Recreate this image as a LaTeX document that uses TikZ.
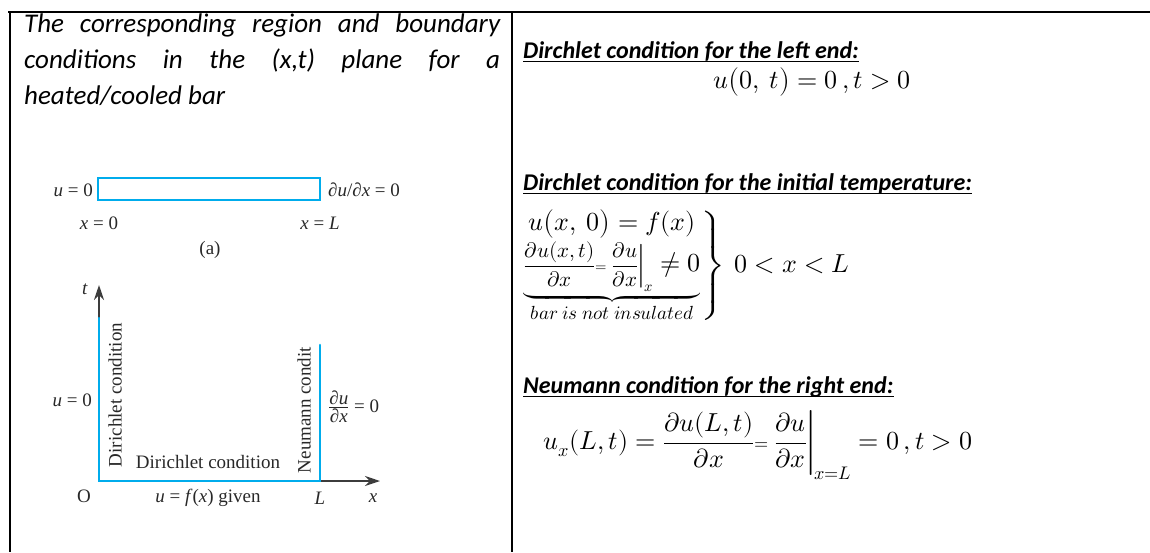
\documentclass[tikz,border=0pt]{standalone}
\usepackage{fontspec}
\usepackage{unicode-math}
\setmainfont{Carlito}
\setmathfont{Latin Modern Math}
\newfontfamily\figfont{Liberation Serif}
\usetikzlibrary{arrows.meta}
\definecolor{barcyan}{RGB}{0,172,236}
\definecolor{axisgray}{RGB}{60,60,60}
\definecolor{figtext}{RGB}{40,40,40}
\newcommand{\smallmath}[2]{\mbox{\fontsize{#1}{#1}\selectfont$\displaystyle #2$}}

\begin{document}
\begin{tikzpicture}[x=1pt,y=-1pt,
  rule/.style={line width=1.5pt},
  bar/.style={barcyan, line width=2.6pt},
  axis/.style={axisgray, line width=1.8pt, -{Stealth[length=15pt,width=10pt]}},
  figlabel/.style={text=figtext, font=\figfont\fontsize{19}{22}\selectfont, inner sep=0pt},
  caption/.style={font=\itshape\fontsize{27}{32}\selectfont, anchor=base west, inner sep=0pt},
  heading/.style={font=\bfseries\itshape\fontsize{24}{28}\selectfont, anchor=base west, inner sep=0pt},
  formula/.style={font=\fontsize{26}{30}\selectfont, inner sep=0pt}]
  \useasboundingbox (0,0) rectangle (1150,552);

  % Table frame
  \draw[line width=2pt] (8,12) -- (1150,12);
  \draw[rule] (10,12) -- (10,552);
  \draw[rule] (512,12) -- (512,552);

  % Left cell: caption
  \node[caption] (cap1) at (24,32) {\makebox[476pt][s]{The corresponding region and boundary}};
  \node[caption] (cap2) at (24,68) {\makebox[476pt][s]{conditions in the (x,t) plane for a}};
  \node[caption] (cap3) at (24,104) {heated/cooled bar};

  % (a) the bar
  \draw[bar] (98,178) rectangle (320,200);
  \node[figlabel, anchor=east] (uzeroa) at (93,190) {\textit{u} = 0};
  \node[figlabel, anchor=west] (dudxa) at (328,190) {\textit{∂u}/\textit{∂x} = 0};
  \node[figlabel] (xzero) at (99,223) {\textit{x} = 0};
  \node[figlabel] (xL) at (320,223) {\textit{x} = \textit{L}};
  \node[figlabel] (lbla) at (210,250) {(a)};

  % (b) the (x,t) plane
  \coordinate (orig) at (99,481);
  \coordinate (ttip) at (99,285);
  \coordinate (xtip) at (380,481);
  \coordinate (lend) at (320,481);
  \draw[axis] (orig) -- (ttip);
  \draw[axis] (orig) -- (xtip);
  \draw[bar, line cap=round] (99,318) -- (orig) -- (lend) -- (320,345);

  \node[figlabel] (tlbl) at (85,289) {\textit{t}};
  \node[figlabel] (olbl) at (84,496) {O};
  \node[figlabel] (given) at (208,498) {\textit{u} = \textit{f}(\textit{x}) given};
  \node[figlabel] (llbl) at (320,498) {\textit{L}};
  \node[figlabel] (xlbl) at (373,498) {\textit{x}};
  \node[figlabel, anchor=east] (uzerob) at (92,400) {\textit{u} = 0};
  \node[figlabel, rotate=90] (dirleft) at (115,395) {Dirichlet condition};
  \node[figlabel] (dirbottom) at (208,462) {Dirichlet condition};
  \node[figlabel, rotate=90] (neumann) at (304,410) {Neumann condit};
  \node[figlabel, anchor=west] (dudxb) at (328,407)
    {$\frac{\mbox{\itshape ∂u}}{\mbox{\itshape ∂x}}$ = 0};

  % Right cell: conditions
  \node[heading] (head1) at (523,58) {\underline{\smash{Dirchlet condition for the left end:}}};
  \node[formula] (eqleft) at (812,82) {$u\bigl(0,\ t\bigr) = 0\,, t > 0$};

  \node[heading] (head2) at (523,190) {\underline{\smash{Dirchlet condition for the initial temperature:}}};
  \node[formula, anchor=west] (eqinit) at (522,266)
    {$\left.\begin{array}{@{}c@{}}
      u\bigl(x,\ 0\bigr) = f(x)\\[2pt]
      \underbrace{\smallmath{21}{\frac{\partial u(x,t)}{\partial x}{\scriptstyle=}\left.\frac{\partial u}{\partial x}\right|_{x}}\neq 0}_{\smallmath{19}{\symit{bar\ is\ not\ insulated}}}
    \end{array}\right\}\ 0<x<L$};

  \node[heading] (head3) at (523,393) {\underline{\smash{Neumann condition for the right end:}}};
  \node[formula] (eqright) at (758,445)
    {$u_x(L,t) = \dfrac{\partial u(L,t)}{\partial x}{\scriptstyle=}\left.\dfrac{\partial u}{\partial x}\right|_{x=L} = 0\,, t > 0$};
\end{tikzpicture}
\end{document}
